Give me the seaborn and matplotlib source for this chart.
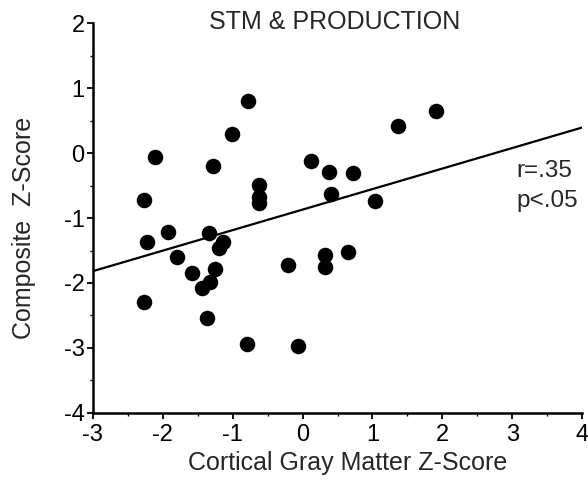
import numpy as np
import pandas as pd
import matplotlib
matplotlib.use("Agg")
import matplotlib.pyplot as plt
import seaborn as sns
from matplotlib.ticker import MultipleLocator

# Data
gray_matter_z = [-2.27, -2.11, -2.23, -1.93, -1.34, -1.14, -1.20, -1.28, -1.01, -0.78,
                 -0.62, -0.62, -0.62, 0.12, 0.38, 0.72, 0.41, 1.04, 1.37, 1.91,
                 -1.80, -1.58, -1.25, -1.44, -1.32, -2.27, -1.37, -0.79, -0.06, -0.21,
                 0.32, 0.32, 0.65]
composite_z = [-0.72, -0.06, -1.37, -1.22, -1.23, -1.37, -1.46, -0.20, 0.29, 0.80,
               -0.49, -0.68, -0.77, -0.12, -0.29, -0.31, -0.63, -0.74, 0.42, 0.65,
               -1.60, -1.85, -1.78, -2.08, -1.98, -2.29, -2.54, -2.94, -2.97, -1.72,
               -1.57, -1.75, -1.52]
fit_intercept = -0.87
fit_slope = 0.316
x_ticks = [-3, -2, -1, 0, 1, 2, 3, 4]
y_ticks = [-4, -3, -2, -1, 0, 1, 2]
title = "STM & PRODUCTION"
stats_lines = ["r=.35", "p<.05"]

sns.set_style("ticks")
plt.rcParams['font.family'] = ['Liberation Sans', 'DejaVu Sans']
plt.rcParams['axes.unicode_minus'] = False

df = pd.DataFrame({"x": gray_matter_z, "y": composite_z})

fig = plt.figure(figsize=(5.88, 4.84), dpi=100)
ax = fig.add_axes([0.158, 0.147, 0.832, 0.805])

sns.scatterplot(data=df, x="x", y="y", ax=ax, s=125, color="black",
                edgecolor="black", linewidth=0, zorder=3)
ax.axline((0, fit_intercept), slope=fit_slope, color="black", lw=1.6, zorder=2)

ax.set_xlim(x_ticks[0], x_ticks[-1])
ax.set_ylim(y_ticks[0], y_ticks[-1])
ax.set_xticks(x_ticks)
ax.set_yticks(y_ticks)
ax.xaxis.set_minor_locator(MultipleLocator(0.5))
ax.yaxis.set_minor_locator(MultipleLocator(0.5))
ax.tick_params(which="major", length=4, width=1.3, labelsize=17, color="black",
               labelcolor="black", pad=2)
ax.tick_params(axis="x", which="major", pad=4)
ax.tick_params(which="minor", length=2.5, width=1.0, color="black")
sns.despine(ax=ax)
for s in ["left", "bottom"]:
    ax.spines[s].set_linewidth(1.8)
    ax.spines[s].set_color("black")

ax.set_xlabel("Cortical Gray Matter Z-Score", fontsize=18)
ax.set_ylabel("Composite  Z-Score", fontsize=18)
ax.xaxis.set_label_coords(0.52, -0.097)
ax.yaxis.set_label_coords(-0.117, 0.474)
ax.text(0.495, 1.004, title, transform=ax.transAxes, ha="center", va="center", fontsize=18)
ax.text(0.866, 0.6205, stats_lines[0], transform=ax.transAxes, ha="left", va="center",
        fontsize=17.5)
ax.text(0.866, 0.545, stats_lines[1], transform=ax.transAxes, ha="left", va="center",
        fontsize=17.5)

fig.savefig("out.png", dpi=100, facecolor="white")
